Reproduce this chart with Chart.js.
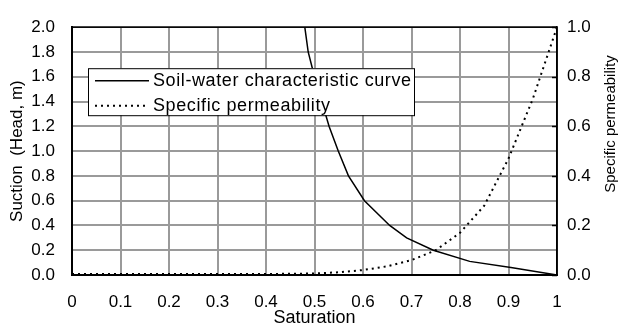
<!DOCTYPE html>
<html><head><meta charset="utf-8">
<script src="https://cdn.jsdelivr.net/npm/chart.js@4.4.1/dist/chart.umd.min.js"></script>
<style>html,body{margin:0;padding:0;background:#fff}#wrap{width:619px;height:327px}</style>
</head><body><div id="wrap"><canvas id="c" width="619" height="327"></canvas></div>
<script>
// ---- data ----
const xTickValues = [0, 0.1, 0.2, 0.3, 0.4, 0.5, 0.6, 0.7, 0.8, 0.9, 1.0];
const yTickValues = [0, 0.2, 0.4, 0.6, 0.8, 1.0, 1.2, 1.4, 1.6, 1.8, 2.0];
const y1TickValues = [0, 0.2, 0.4, 0.6, 0.8, 1.0];

const swccSat     = [0.480, 0.487, 0.500, 0.515, 0.530, 0.549, 0.570, 0.603, 0.655, 0.690, 0.745, 0.820, 0.905, 1.000];
const swccSuction = [2.0,   1.8,   1.6,   1.4,   1.2,   1.0,   0.8,   0.6,   0.4,   0.3,   0.2,   0.11,  0.06,  0.0];

const permSat   = [0, 0.05, 0.1, 0.15, 0.2, 0.25, 0.3, 0.35, 0.4, 0.45, 0.5, 0.55, 0.6, 0.65, 0.7, 0.75, 0.8, 0.85, 0.9, 0.95, 1.0];
const permValue = [0.004, 0.004, 0.004, 0.004, 0.004, 0.004, 0.004, 0.004, 0.004, 0.005, 0.006, 0.011, 0.02, 0.035, 0.06, 0.10, 0.17, 0.28, 0.47, 0.71, 1.0];

const seriesNames = ['Soil-water characteristic curve', 'Specific permeability'];
const xTitle = 'Saturation';
const yTitle = 'Suction  (Head, m)';
const y1Title = 'Specific permeability';

// ---- chart ----
const FONT = '"Liberation Sans", Arial, sans-serif';
const GRID = '#9a9a9a';

const framePlugin = {
  id: 'frame',
  beforeDatasetsDraw(chart) {
    const {ctx, chartArea: a} = chart;
    ctx.save();
    const s = chart.scales.y1;
    ctx.strokeStyle = '#000'; ctx.lineWidth = 1.5;
    y1TickValues.forEach(v => {
      const y = Math.round(s.getPixelForValue(v)) + 0.5;
      ctx.beginPath(); ctx.moveTo(a.right - 5, y); ctx.lineTo(a.right, y); ctx.stroke();
    });
    ctx.strokeRect(a.left, a.top, a.right - a.left, a.bottom - a.top);
    ctx.restore();
  },
  afterDraw(chart) {
    const {ctx, chartArea: a} = chart;
    ctx.save();
    ctx.font = '15px ' + FONT;
    ctx.fillStyle = '#000';
    ctx.textAlign = 'center'; ctx.textBaseline = 'middle';
    ctx.translate(611, 124); ctx.rotate(-Math.PI / 2);
    ctx.fillText(y1Title, 0, 0);
    ctx.restore();

    ctx.save();
    const bx = a.left + 16, by = a.top + 41, bw = 326, bh = 47;
    ctx.fillStyle = '#fff';
    ctx.fillRect(bx, by, bw, bh);
    ctx.strokeStyle = '#000'; ctx.lineWidth = 1;
    ctx.strokeRect(bx + 0.5, by + 0.5, bw, bh);
    const ds = chart.data.datasets;
    const rows = [by + 12, by + 37];
    ds.forEach((d, i) => {
      ctx.beginPath();
      ctx.strokeStyle = '#000';
      ctx.lineWidth = d.borderWidth;
      ctx.setLineDash(d.borderDash || []);
      ctx.moveTo(bx + 7, rows[i] + 0.5); ctx.lineTo(bx + 61, rows[i] + 0.5);
      ctx.stroke();
      ctx.setLineDash([]);
      ctx.font = '18px ' + FONT;
      try { ctx.letterSpacing = '0.6px'; } catch (e) {}
      ctx.fillStyle = '#000';
      ctx.textAlign = 'left'; ctx.textBaseline = 'middle';
      ctx.fillText(d.label, bx + 65, rows[i] + 1);
    });
    ctx.restore();
  }
};

const fixTicks = vals => s => { s.ticks = vals.map(v => ({value: v})); };

new Chart(document.getElementById('c'), {
  type: 'line',
  data: {
    datasets: [
      {
        label: seriesNames[0],
        data: swccSat.map((x, i) => ({x, y: swccSuction[i]})),
        yAxisID: 'y', borderColor: '#000', borderWidth: 1.5,
        pointRadius: 0, tension: 0, fill: false
      },
      {
        label: seriesNames[1],
        data: permSat.map((x, i) => ({x, y: permValue[i]})),
        yAxisID: 'y1', borderColor: '#000', borderWidth: 2, borderDash: [2, 4],
        pointRadius: 0, tension: 0, fill: false
      }
    ]
  },
  options: {
    responsive: false, animation: false, devicePixelRatio: 1,
    layout: {padding: {top: 19, left: 0, right: 0, bottom: 0}},
    plugins: {legend: {display: false}, tooltip: {enabled: false}},
    scales: {
      x: {
        type: 'linear', min: 0, max: 1, position: 'bottom',
        afterBuildTicks: fixTicks(xTickValues),
        afterFit: s => { s.height = 52; },
        ticks: {
          font: {size: 17, family: FONT}, color: '#000', padding: 17,
          autoSkip: false, maxRotation: 0,
          callback: v => (v === 0 ? '0' : v === 1 ? '1' : v.toFixed(1))
        },
        grid: {color: GRID, lineWidth: 2, drawTicks: false},
        border: {display: true, color: '#000', width: 2},
        title: {display: true, text: xTitle, color: '#000', font: {size: 18, family: FONT, lineHeight: 1}, padding: {top: 0, bottom: 0}}
      },
      y: {
        type: 'linear', min: 0, max: 2, position: 'left',
        afterBuildTicks: fixTicks(yTickValues),
        afterFit: s => { s.width = 72; },
        ticks: {font: {size: 17, family: FONT}, color: '#000', padding: 17, callback: v => v.toFixed(1)},
        grid: {color: GRID, lineWidth: 2, drawTicks: false},
        border: {display: true, color: '#000', width: 2},
        title: {display: true, text: yTitle, color: '#000', font: {size: 17, family: FONT, lineHeight: 1}, padding: {top: 9, bottom: 0}}
      },
      y1: {
        type: 'linear', min: 0, max: 1, position: 'right',
        afterBuildTicks: fixTicks(y1TickValues),
        afterFit: s => { s.width = 62; },
        ticks: {font: {size: 17, family: FONT}, color: '#000', padding: 10, callback: v => v.toFixed(1)},
        grid: {display: false, drawTicks: false},
        border: {display: true, color: '#000', width: 1.5}
      }
    }
  },
  plugins: [framePlugin]
});
</script>
</body></html>
